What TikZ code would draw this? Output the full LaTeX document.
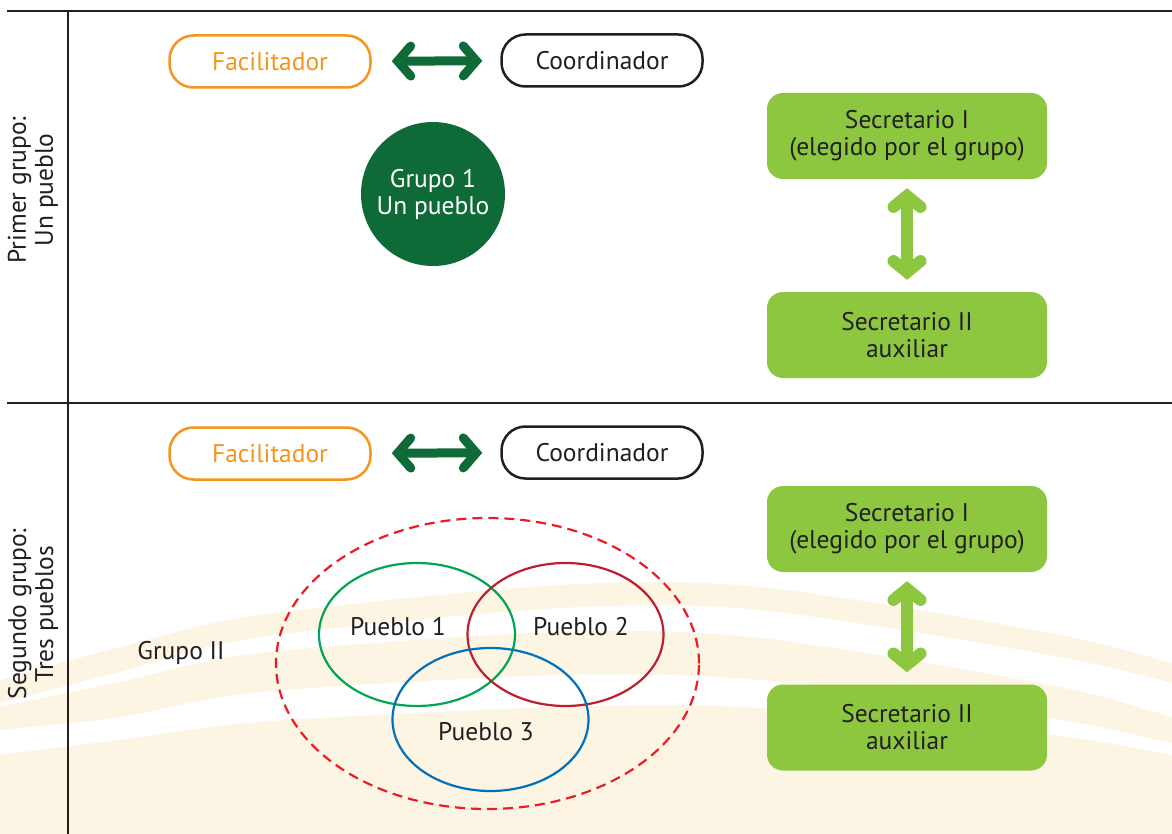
\documentclass[tikz,border=0pt]{standalone}
\usepackage{fontspec}
\setmainfont{PT Sans}
\usetikzlibrary{arrows.meta,calc,shapes.geometric}
\definecolor{orng}{HTML}{F7941D}
\definecolor{dkgreen}{HTML}{0E6B38}
\definecolor{ltgreen}{HTML}{8DC63F}
\definecolor{dashred}{HTML}{ED1C24}
\definecolor{pgreen}{HTML}{00A651}
\definecolor{pred}{HTML}{BE1E2D}
\definecolor{pblue}{HTML}{0072BC}
\definecolor{txt}{HTML}{231F20}
\definecolor{cream}{HTML}{FDF5E4}
\begin{document}
\begin{tikzpicture}[x=1pt,y=-1pt,
  every node/.style={font=\fontsize{25.5}{27}\selectfont, text=txt, align=center},
  pill/.style={draw, rounded corners=24pt, line width=2.5pt, minimum width=201pt, minimum height=52pt, inner sep=0pt},
  secbox/.style={fill=ltgreen, rounded corners=16pt, minimum width=280pt, minimum height=86pt, inner sep=0pt},
  grpcircle/.style={circle, fill=dkgreen, minimum size=144pt, inner sep=0pt, text=white},
  sidelabel/.style={rotate=90},
  rule/.style={draw=txt, line width=1.3pt},
  dkarrow/.style={draw=dkgreen, line width=9pt,
    {Straight Barb[length=13pt, width=30pt, line width=9pt, line cap=round, line join=miter]}-{Straight Barb[length=13pt, width=30pt, line width=9pt, line cap=round, line join=miter]}},
  ltarrow/.style={draw=ltgreen, line width=12pt,
    {Straight Barb[length=11pt, width=27pt, line width=12pt, line cap=round, line join=miter]}-{Straight Barb[length=11pt, width=27pt, line width=12pt, line cap=round, line join=miter]}},
  pueblo/.style={ellipse, draw, line width=2.2pt, minimum width=196pt, minimum height=143pt, inner sep=0pt},
  groupring/.style={ellipse, draw=dashred, line width=2.2pt, dash pattern=on 10pt off 6pt, minimum width=423pt, minimum height=291pt, inner sep=0pt}
]
\useasboundingbox (0,0) rectangle (1172,834);
\fill[white] (0,0) rectangle (1172,834);
% background bands
\fill[cream] plot[smooth] coordinates {(-5,681) (0,680) (120,647) (260,615) (560,585) (760,587) (1050,633) (1172,663) (1177,664)}
  -- plot[smooth] coordinates {(1177,684) (1172,683) (1050,655) (760,610) (560,608) (260,637) (120,672) (0,703) (-5,704)} -- cycle;
\fill[cream] plot[smooth] coordinates {(-5,708) (0,707) (120,682) (260,653) (560,632) (760,638) (1050,685) (1172,717) (1177,718)}
  -- plot[smooth] coordinates {(1177,744) (1172,743) (1050,718) (760,680) (560,675) (260,692) (120,717) (0,730) (-5,731)} -- cycle;
\fill[cream] plot[smooth] coordinates {(-5,756) (0,755) (120,740) (260,722) (560,707) (760,708) (1050,735) (1172,755) (1177,756)}
  -- (1177,840) -- (-5,840) -- cycle;
% frame rules
\coordinate (r1a) at (7,11);   \coordinate (r1b) at (1172,11);
\coordinate (r2a) at (7,403);  \coordinate (r2b) at (1172,403);
\coordinate (va) at (68,11);   \coordinate (vb) at (68,834);
\draw[rule] (r1a) -- (r1b);
\draw[rule] (r2a) -- (r2b);
\draw[rule] (va) -- (vb);
% side labels
\node[sidelabel] (lab1) at (33,190) {Primer grupo:\\Un pueblo};
\node[sidelabel] (lab2) at (33,614) {Segundo grupo:\\Tres pueblos};
% ---------- top section ----------
\node[pill, draw=orng, text=orng] (fac1) at (270,61.5) {Facilitador};
\node[pill, draw=txt] (coo1) at (602,60.5) {Coordinador};
\draw[dkarrow, shorten <=20pt, shorten >=18pt] (fac1) -- (coo1);
\node[grpcircle] (g1) at (433,194) {Grupo 1\\Un pueblo};
\node[secbox] (s11) at (907,136) {Secretario I\\(elegido por el grupo)};
\node[secbox] (s12) at (907,335) {Secretario II\\auxiliar};
\draw[ltarrow, shorten <=9pt, shorten >=12pt] (s11) -- (s12);
% ---------- bottom section ----------
\node[pill, draw=orng, text=orng] (fac2) at (270,453.5) {Facilitador};
\node[pill, draw=txt] (coo2) at (602,452.5) {Coordinador};
\draw[dkarrow, shorten <=20pt, shorten >=18pt] (fac2) -- (coo2);
\node[secbox] (s21) at (907,529) {Secretario I\\(elegido por el grupo)};
\node[secbox] (s22) at (907,727.5) {Secretario II\\auxiliar};
\draw[ltarrow, shorten <=9pt, shorten >=12pt] (s21) -- (s22);
\node[groupring] (ring) at (487.5,663.5) {};
\node[pueblo, draw=pgreen] (p1) at (417,634.5) {};
\node[pueblo, draw=pred] (p2) at (565.5,634.5) {};
\node[pueblo, draw=pblue] (p3) at (490.5,719.5) {};
\node (t1) at (398,627) {Pueblo 1};
\node (t2) at (581,627) {Pueblo 2};
\node (t3) at (486,732) {Pueblo 3};
\node (g2) at (181,653) {Grupo II};
\end{tikzpicture}
\end{document}
